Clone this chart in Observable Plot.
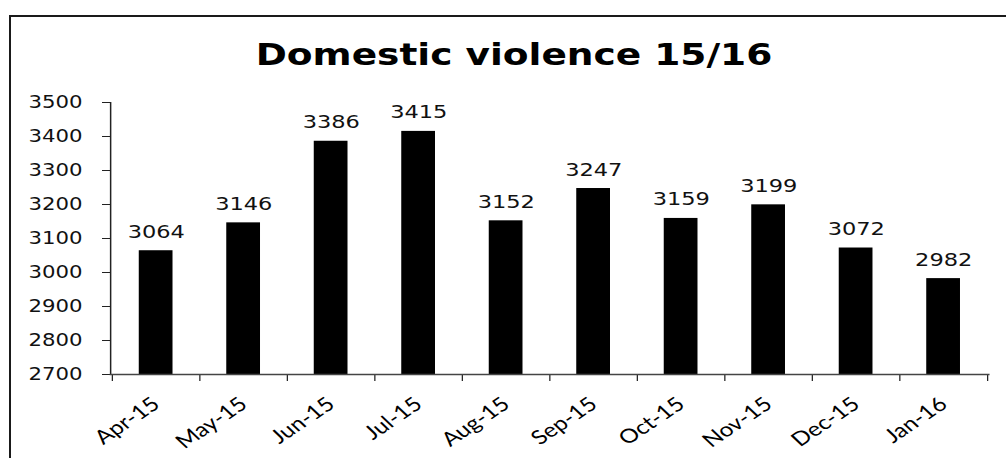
<!DOCTYPE html>
<html>
<head>
<meta charset="utf-8">
<script src="https://cdn.jsdelivr.net/npm/d3@7"></script>
<script src="https://cdn.jsdelivr.net/npm/@observablehq/plot@0.6"></script>
<style>
  html, body { margin: 0; padding: 0; background: #fff; overflow: hidden; width: 1006px; height: 458px; }
  #frame { position: absolute; left: 9px; top: 15px; width: 1010px; height: 470px;
           border-left: 2px solid #1a1a1a; border-top: 2px solid #1a1a1a; box-sizing: border-box; }
  #wrap { position: absolute; left: 0; top: 0; width: 804.8px; height: 458px; transform: scaleX(1.25); transform-origin: 0 0; }
  #title { position: absolute; left: 0; top: 39.6px; width: 822.4px; text-align: center;
           font: bold 30px/30px "DejaVu Sans", sans-serif; color: #000; white-space: nowrap; }
  #chart { position: absolute; left: 0; top: 0; width: 804.8px; height: 458px; }
  #chart svg { max-width: none !important; }
</style>
</head>
<body>
<div id="frame"></div>
<div id="wrap">
  <div id="title">Domestic violence 15/16</div>
  <div id="chart"></div>
</div>
<script>
const months = ["Apr-15","May-15","Jun-15","Jul-15","Aug-15","Sep-15","Oct-15","Nov-15","Dec-15","Jan-16"];
const values = [3064, 3146, 3386, 3415, 3152, 3247, 3159, 3199, 3072, 2982];
const yTicks = [2700, 2800, 2900, 3000, 3100, 3200, 3300, 3400, 3500];

const data = months.map((m, i) => ({month: m, value: values[i]}));

const S = 1.25;
const W = 1006 / S;
const mL = 110 / S, mR = 18 / S;
const step = (W - mL - mR) / months.length;
const base = yTicks[0];

const chart = Plot.plot({
  width: W,
  height: 458,
  marginTop: 102,
  marginBottom: 84,
  marginLeft: mL,
  marginRight: mR,
  style: {background: "transparent", color: "#111", maxWidth: "none"},
  x: {domain: months, paddingInner: 0.61, paddingOuter: 0.305, label: null},
  y: {domain: [yTicks[0], yTicks[yTicks.length - 1]], label: null},
  marks: [
    Plot.barY(data, {x: "month", y1: () => base, y2: "value", fill: "#000"}),
    Plot.text(data, {x: "month", y: "value", text: d => String(d.value), lineAnchor: "bottom", dy: -13,
      fontSize: 18, fontFamily: "DejaVu Sans", fill: "#111"}),
    Plot.axisY({ticks: yTicks, tickSize: 6.4, tickPadding: 16, tickFormat: d => String(d),
      fontSize: 17, fontFamily: "DejaVu Sans", stroke: "#222"}),
    Plot.axisX({tickSize: 0, tickPadding: 27, tickRotate: -40, fontSize: 19.5, fontFamily: "Lato", fill: "#000"}),
    Plot.axisX({tickSize: 7, tickFormat: () => "", dx: -step / 2, stroke: "#222"}),
    Plot.axisX({ticks: [months[months.length - 1]], tickSize: 7, tickFormat: () => "", dx: step / 2, stroke: "#222"}),
    Plot.frame({anchor: "left", stroke: "#222", strokeWidth: 1.2}),
    Plot.frame({anchor: "bottom", stroke: "#444", strokeWidth: 1.5})
  ]
});
chart.style.maxWidth = "none";
document.getElementById("chart").appendChild(chart);
</script>
</body>
</html>
